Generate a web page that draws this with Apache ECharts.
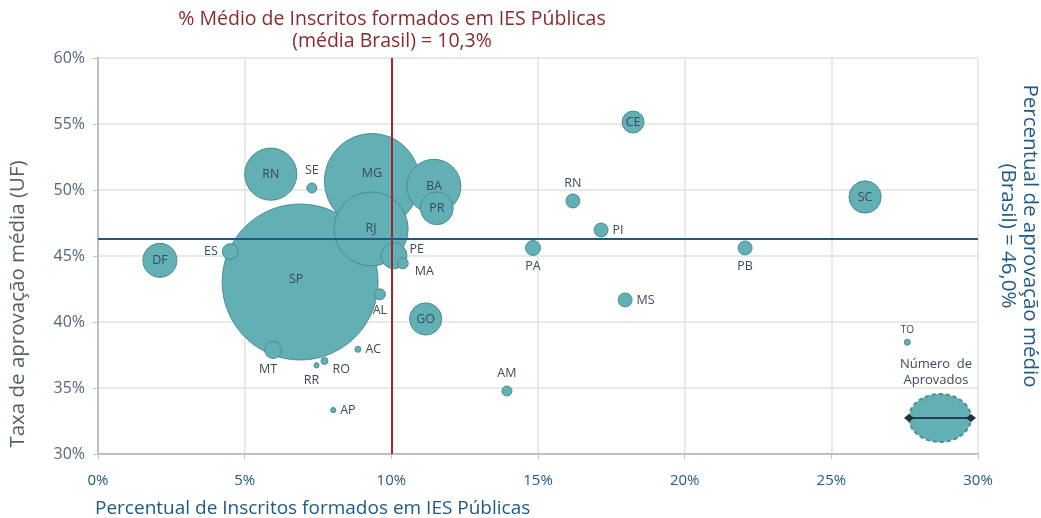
<!DOCTYPE html>
<html><head><meta charset="utf-8">
<script src="https://cdn.jsdelivr.net/npm/echarts@6/dist/echarts.min.js"></script>
<style>html,body{margin:0;padding:0;background:#fff}#c{width:1041px;height:518px}</style>
</head><body><div id="c"></div>
<script>
// ---- data ----
const states = ['SP','MG','RJ','BA','RN','DF','PR','GO','SC','PE','CE','MT','ES','PA','RN','PI','PB','MS','SE','MA','AL','AM','AC','RO','TO','RR','AP'];
const pctPublicas = [6.89, 9.34, 9.31, 11.45, 5.89, 2.11, 11.55, 11.17, 26.15, 10.09, 18.24, 5.97, 4.51, 14.83, 16.19, 17.15, 22.06, 17.97, 7.29, 10.39, 9.61, 13.94, 8.86, 7.72, 27.59, 7.45, 8.02];
const taxaAprov = [43.03, 50.68, 47.05, 50.28, 51.2, 44.67, 48.61, 40.23, 49.47, 45.02, 55.15, 37.88, 45.33, 45.61, 49.17, 46.97, 45.61, 41.67, 50.15, 44.44, 42.1, 34.77, 37.93, 37.05, 38.46, 36.72, 33.33];
const aprovados = [60800, 22600, 13700, 7300, 6800, 2900, 2700, 2600, 2600, 1700, 1200, 720, 640, 560, 490, 490, 490, 490, 250, 300, 300, 250, 90, 120, 90, 60, 60];
const mediaPublicas = 10.0;   // drawn line position
const mediaAprov = 46.3;      // drawn line position
const xTicks = [0, 5, 10, 15, 20, 25, 30];
const yTicks = [30, 35, 40, 45, 50, 55, 60];

// label placement (style)
const labelPos = {
  0:{position:'inside',offset:[-4,-3]}, 1:{position:'inside',offset:[0,-8]}, 2:{position:'inside',offset:[0,-1]},
  3:{position:'inside'}, 4:{position:'inside'}, 5:{position:'inside'}, 6:{position:'inside'}, 7:{position:'inside'},
  8:{position:'inside'}, 9:{position:'right',offset:[-2,-6]}, 10:{position:'inside'}, 11:{position:'bottom',offset:[-5,0]},
  12:{position:'left',offset:[0,0]}, 13:{position:'bottom'}, 14:{position:'top'}, 15:{position:'right'},
  16:{position:'bottom'}, 17:{position:'right'}, 18:{position:'top',offset:[0,-2]}, 19:{position:'right',offset:[2,8]},
  20:{position:'bottom'}, 21:{position:'top',offset:[0,-2]}, 22:{position:'right'}, 23:{position:'right',offset:[0,8]},
  24:{position:'top',fontSize:10}, 25:{position:'bottom',offset:[-5,2]}, 26:{position:'right'}
};

const data = states.map((s,i)=>{
  const lp = labelPos[i] || {};
  return {
    name: s,
    value: [pctPublicas[i], taxaAprov[i], aprovados[i]],
    label: Object.assign({}, lp)
  };
});

const chart = echarts.init(document.getElementById('c'));
const FONT = '"Open Sans", Lato, sans-serif';
chart.setOption({
  animation:false,
  textStyle:{fontFamily:FONT},
  grid:{left:98,right:63,top:58,bottom:64},
  xAxis:{type:'value',min:0,max:30,interval:5,
    axisLine:{show:true,lineStyle:{color:'#c0c0c0',width:2}},
    axisTick:{show:true,length:5,lineStyle:{color:'#c0c0c0',width:1}},
    axisLabel:{formatter:v=>xTicks.includes(v)?v+'%':'',color:'#1d5a86',fontSize:15,margin:19,fontFamily:FONT},
    splitLine:{show:true,lineStyle:{color:'#e2e2e2',width:1.5}}},
  yAxis:{type:'value',min:30,max:60,interval:5,
    axisLine:{show:true,lineStyle:{color:'#c0c0c0',width:2}},
    axisTick:{show:true,length:5,lineStyle:{color:'#c0c0c0',width:1}},
    axisLabel:{formatter:v=>yTicks.includes(v)?v+'%':'',color:'#55657a',fontSize:16,margin:13,fontFamily:FONT},
    splitLine:{show:true,lineStyle:{color:'#e2e2e2',width:1.5}}},
  series:[
    {type:'scatter',data:data,
     symbolSize:v=>2*Math.sqrt(v[2]/10),
     itemStyle:{color:'#62afb4',borderColor:'#4b8e93',borderWidth:1,opacity:1},
     label:{show:true,formatter:p=>p.name,color:'#3b4a5c',fontSize:12.5,fontFamily:FONT,distance:4},
     emphasis:{disabled:true},
     markLine:{silent:true,symbol:'none',label:{show:false},
       data:[
         {xAxis:mediaPublicas,lineStyle:{color:'#9b2a2e',width:2,type:'solid'}},
         {yAxis:mediaAprov,lineStyle:{color:'#1d5a86',width:2,type:'solid'}}
       ]},
     z:3
    }
  ],
  graphic:[
    {type:'text',x:392,y:30,style:{text:'% Médio de Inscritos formados em IES Públicas\n(média Brasil) = 10,3%',
      fill:'#8b2a2e',font:'19.5px '+FONT,textAlign:'center',textVerticalAlign:'middle',lineHeight:22},z:10},
    {type:'text',x:1019,y:236,rotation:-Math.PI/2,style:{text:'Percentual de aprovação médio\n(Brasil) = 46,0%',
      fill:'#1d5a86',font:'20.5px '+FONT,textAlign:'center',textVerticalAlign:'middle',lineHeight:22},z:10},
    {type:'text',x:18,y:304,rotation:Math.PI/2,style:{text:'Taxa de aprovação média (UF)',
      fill:'#55606b',font:'20.5px '+FONT,textAlign:'center',textVerticalAlign:'middle'},z:10},
    {type:'text',x:95,y:509,style:{text:'Percentual de Inscritos formados em IES Públicas',
      fill:'#1d5a86',font:'19px '+FONT,textAlign:'left',textVerticalAlign:'middle'},z:10},
    {type:'text',x:936,y:372,style:{text:'Número  de\nAprovados',fill:'#3b4a5c',font:'13px '+FONT,textAlign:'center',textVerticalAlign:'middle',lineHeight:16},z:10},
    {type:'ellipse',shape:{cx:940,cy:418,rx:31,ry:24},style:{fill:'#62afb4',stroke:'#4b8e93',lineWidth:2,lineDash:[4,3]},z:10},
    {type:'line',shape:{x1:909,y1:418,x2:971,y2:418},style:{stroke:'#2d3e50',lineWidth:2},z:11},
    {type:'polygon',shape:{points:[[904,418],[909,414],[914,418],[909,422]]},style:{fill:'#22303f'},z:12},
    {type:'polygon',shape:{points:[[966,418],[971,414],[976,418],[971,422]]},style:{fill:'#22303f'},z:12}
  ]
});
</script></body></html>
